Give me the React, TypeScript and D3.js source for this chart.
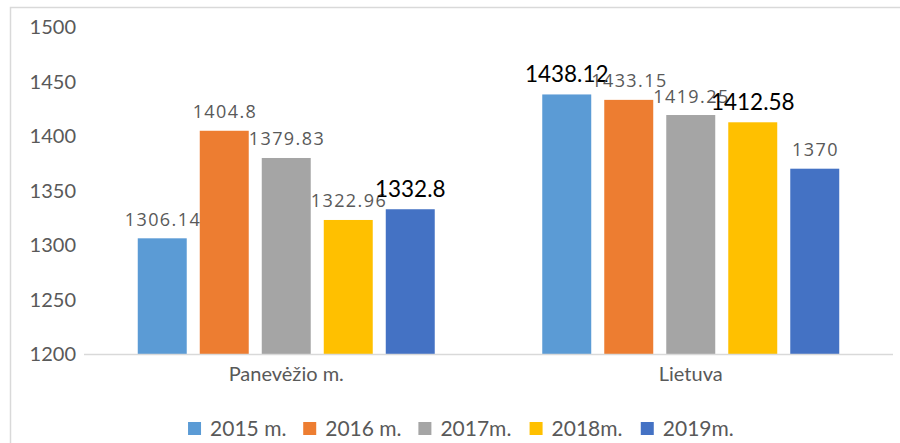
import React from "react";
import * as d3 from "d3";

const categories = ["Panevėžio m.", "Lietuva"];
const seriesNames = ["2015 m.", "2016 m.", "2017m.", "2018m.", "2019m."];
const values2015 = [1306.14, 1438.12];
const values2016 = [1404.8, 1433.15];
const values2017 = [1379.83, 1419.25];
const values2018 = [1322.96, 1412.58];
const values2019 = [1332.8, 1370];
const yTicks = [1200, 1250, 1300, 1350, 1400, 1450, 1500];
const emphasizedLabels = ["2019m.|Panevėžio m.", "2015 m.|Lietuva", "2018m.|Lietuva"];

const seriesValues = [values2015, values2016, values2017, values2018, values2019];
const colors = ["#5B9BD5", "#ED7D31", "#A5A5A5", "#FFC000", "#4472C4"];

const W = 900;
const H = 443;
const plotLeft = 84;
const plotRight = 893;
const plotTop = 27;
const plotBottom = 354;
const textColor = "#595959";
const fontMain = "Lato, 'Open Sans', sans-serif";

export default function App() {
  const x0 = d3.scaleBand<string>().domain(categories).range([plotLeft, plotRight]).padding(0);
  const x1 = d3
    .scaleBand<string>()
    .domain(seriesNames)
    .range([0, x0.bandwidth()])
    .paddingInner(0.21)
    .paddingOuter(0.867);
  const y = d3.scaleLinear().domain([1200, 1500]).range([plotBottom, plotTop]);

  // legend layout
  const legendFont = 21;
  const sq = 13;
  const gapSqText = 9;
  const gapItems = 18;
  const charW = (s: string) => {
    let w = 0;
    for (const c of s) {
      if (/[0-9]/.test(c)) w += 0.58;
      else if (c === "m") w += 0.87;
      else if (c === ".") w += 0.2;
      else if (c === " ") w += 0.19;
      else w += 0.5;
    }
    return w * legendFont;
  };
  const itemWidths = seriesNames.map((s) => sq + gapSqText + charW(s));
  const totalW = d3.sum(itemWidths) + gapItems * (seriesNames.length - 1);
  const legendCenter = 461;
  let lx = legendCenter - totalW / 2;
  const legendItems = seriesNames.map((s, i) => {
    const item = { name: s, x: lx, color: colors[i] };
    lx += itemWidths[i] + gapItems;
    return item;
  });

  return (
    <svg
      width={W}
      height={H}
      style={{ position: "absolute", left: 0, top: 0, background: "#fff" }}
    >
      <rect x={10.5} y={7.5} width={W} height={H} fill="#fff" stroke="#D9D9D9" strokeWidth={1.5} />
      {yTicks.map((t) => (
        <text
          key={t}
          x={76}
          y={y(t)}
          dy="0.35em"
          textAnchor="end"
          fontFamily={fontMain}
          fontSize={20}
          fill={textColor}
        >
          {t}
        </text>
      ))}
      {categories.map((c, ci) =>
        seriesNames.map((s, si) => {
          const v = seriesValues[si][ci];
          const bx = (x0(c) as number) + (x1(s) as number);
          const bw = x1.bandwidth();
          const by = y(v);
          const emph = emphasizedLabels.includes(`${s}|${c}`);
          return (
            <g key={`${c}-${s}`}>
              <rect x={bx} y={by} width={bw} height={plotBottom - by} fill={colors[si]} />
            </g>
          );
        })
      )}
      <line x1={plotLeft} x2={plotRight} y1={plotBottom + 0.5} y2={plotBottom + 0.5} stroke="#D9D9D9" strokeWidth={1.5} />
      {categories.map((c, ci) =>
        seriesNames.map((s, si) => {
          const v = seriesValues[si][ci];
          const cx = (x0(c) as number) + (x1(s) as number) + x1.bandwidth() / 2;
          const by = y(v);
          const emph = emphasizedLabels.includes(`${s}|${c}`);
          return emph ? (
            <text
              key={`l-${c}-${s}`}
              x={cx}
              y={by - 12.5}
              textAnchor="middle"
              fontFamily={fontMain}
              fontSize={22.5}
              fill="#000"
            >
              {v}
            </text>
          ) : (
            <text
              key={`l-${c}-${s}`}
              x={cx + 0.7}
              y={by - 12.5}
              textAnchor="middle"
              fontFamily="'Open Sans', sans-serif"
              fontSize={18}
              letterSpacing={1.4}
              fill={textColor}
            >
              {v}
            </text>
          );
        })
      )}
      {categories.map((c) => (
        <text
          key={c}
          x={(x0(c) as number) + x0.bandwidth() / 2}
          y={381}
          textAnchor="middle"
          fontFamily={fontMain}
          fontSize={20}
          fill={textColor}
        >
          {c}
        </text>
      ))}
      {legendItems.map((it) => (
        <g key={it.name}>
          <rect x={it.x} y={422} width={sq} height={sq} fill={it.color} />
          <text
            x={it.x + sq + gapSqText}
            y={435.5}
            fontFamily={fontMain}
            fontSize={legendFont}
            fill={textColor}
          >
            {it.name}
          </text>
        </g>
      ))}
    </svg>
  );
}
